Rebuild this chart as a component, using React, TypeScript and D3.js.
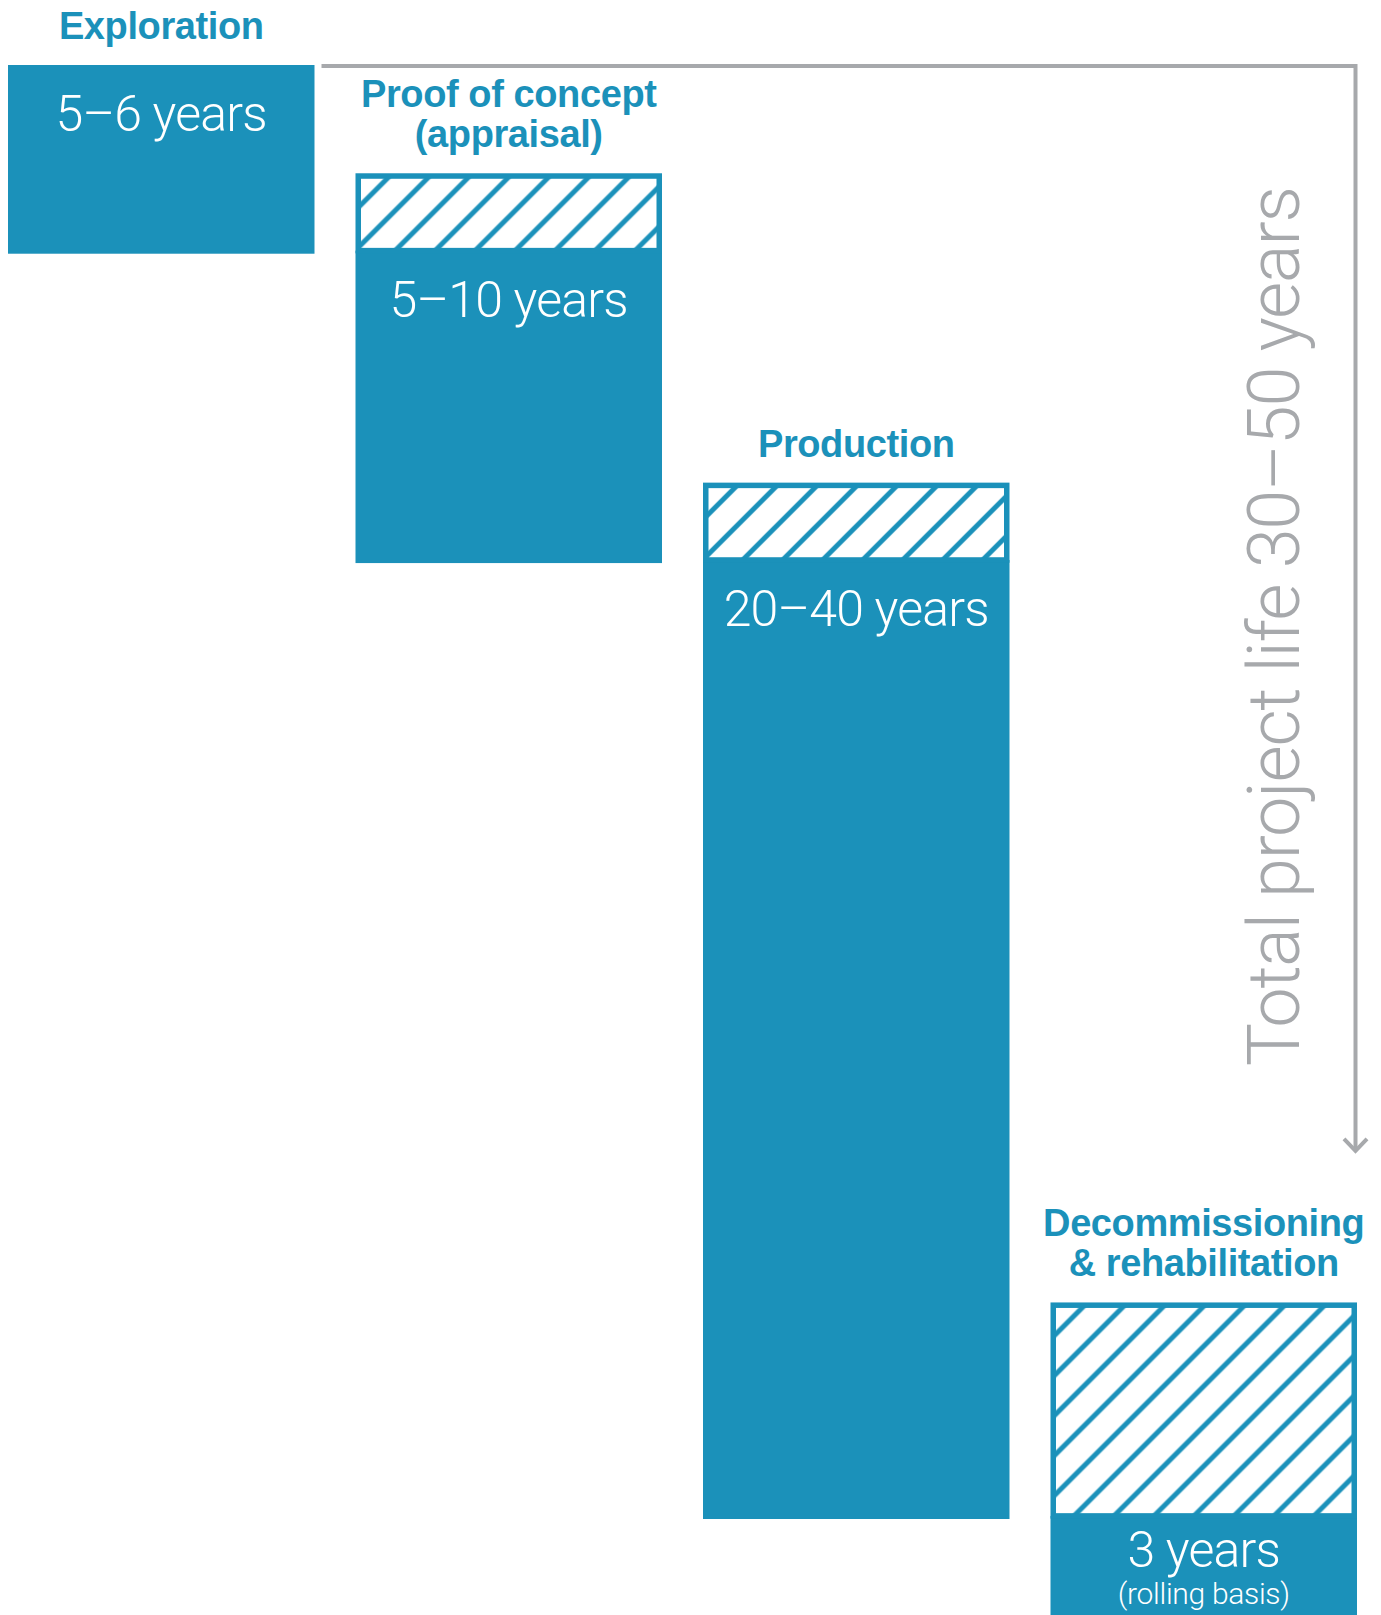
import React from "react";
import * as d3 from "d3";

// ---- data ----
const phaseTitles: string[][] = [
  ["Exploration"],
  ["Proof of concept", "(appraisal)"],
  ["Production"],
  ["Decommissioning", "& rehabilitation"],
];
const durationLabels = ["5–6 years", "5–10 years", "20–40 years", "3 years"];
const durationNotes = ["", "", "", "(rolling basis)"];
// schematic timeline units
const barStart = [0, 3.5, 13.5, 40];
const hatchEnd: (number | null)[] = [null, 6, 16, 46.9];
const barEnd = [6.1, 16.1, 47, 50.5];
const totalLifeLabel = "Total project life 30–50 years";
const totalLifeEnd = 35.1;

const BLUE = "#1b91ba";
const GRAY = "#a7a9ac";
const W = 1381;
const H = 1615;

export default function App() {
  const x = d3
    .scaleBand<number>()
    .domain(d3.range(phaseTitles.length))
    .range([8, 1357])
    .paddingInner(0.118)
    .paddingOuter(0);
  const y = d3.scaleLinear().domain([0, 47]).range([65, 1519]);
  const bw = x.bandwidth();
  const bold = "'Liberation Sans', Arial, sans-serif";
  const light = "Roboto, 'Liberation Sans', sans-serif";

  const lastX = (x(phaseTitles.length - 1) as number) + bw;
  const arrowX = lastX - 1.5;
  const arrowBottom = y(totalLifeEnd);
  const arrowPath = d3.path();
  arrowPath.moveTo((x(1) as number) - 34, y(0) + 1);
  arrowPath.lineTo(arrowX, y(0) + 1);
  arrowPath.lineTo(arrowX, arrowBottom);

  return (
    <svg
      width={W}
      height={H}
      style={{ position: "absolute", left: 0, top: 0, display: "block" }}
    >
      <defs>
        {phaseTitles.map((_, i) => {
          const bx = x(i) as number;
          const top = y(barStart[i]);
          return (
            <pattern
              key={i}
              id={`hatch${i}`}
              patternUnits="userSpaceOnUse"
              width={40}
              height={40}
              x={bx + 5 + 27}
              y={top + 5}
            >
              <path
                d="M-10,10 L10,-10 M0,40 L40,0 M30,50 L50,30"
                stroke={BLUE}
                strokeWidth={5}
                fill="none"
              />
            </pattern>
          );
        })}
      </defs>

      {/* total life arrow */}
      <path d={arrowPath.toString()} fill="none" stroke={GRAY} strokeWidth={4} />
      <path
        d={`M${arrowX - 11.5},${arrowBottom - 12} L${arrowX},${arrowBottom} L${arrowX + 11.5},${arrowBottom - 12}`}
        fill="none"
        stroke={GRAY}
        strokeWidth={4}
      />
      <text
        transform={`translate(1299, 1066) rotate(-90)`}
        fontFamily={light}
        fontWeight={300}
        fontSize={72}
        fill={GRAY}
        textAnchor="start"
        textLength={880}
        lengthAdjust="spacing"
      >
        {totalLifeLabel}
      </text>

      {phaseTitles.map((lines, i) => {
        const bx = x(i) as number;
        const top = y(barStart[i]);
        const he = hatchEnd[i];
        const solidTop = he == null ? top : y(he);
        const bottom = y(barEnd[i]);
        const cx = bx + bw / 2;
        const hasNote = durationNotes[i] !== "";
        const valueBase = solidTop + (hasNote ? 51 : 66);
        return (
          <g key={i}>
            {lines.map((ln, j) => (
              <text
                key={j}
                x={cx}
                y={top - 26 - (lines.length - 1 - j) * 40}
                textAnchor="middle"
                fontFamily={bold}
                fontWeight={700}
                fontSize={38}
                letterSpacing={-0.4}
                fill={BLUE}
              >
                {ln}
              </text>
            ))}
            <rect x={bx} y={solidTop} width={bw} height={bottom - solidTop} fill={BLUE} />
            {he != null && (
              <rect
                x={bx + 2.75}
                y={top + 2.75}
                width={bw - 5.5}
                height={solidTop - top - 2.75}
                fill={`url(#hatch${i})`}
                stroke={BLUE}
                strokeWidth={5.5}
              />
            )}
            <text
              x={cx}
              y={valueBase}
              textAnchor="middle"
              fontFamily={light}
              fontWeight={300}
              fontSize={50}
              letterSpacing={-0.8}
              fill="#ffffff"
            >
              {durationLabels[i]}
            </text>
            {hasNote && (
              <text
                x={cx}
                y={valueBase + 37}
                textAnchor="middle"
                fontFamily={light}
                fontWeight={300}
                fontSize={30}
                letterSpacing={-0.3}
                fill="#ffffff"
              >
                {durationNotes[i]}
              </text>
            )}
          </g>
        );
      })}
    </svg>
  );
}
